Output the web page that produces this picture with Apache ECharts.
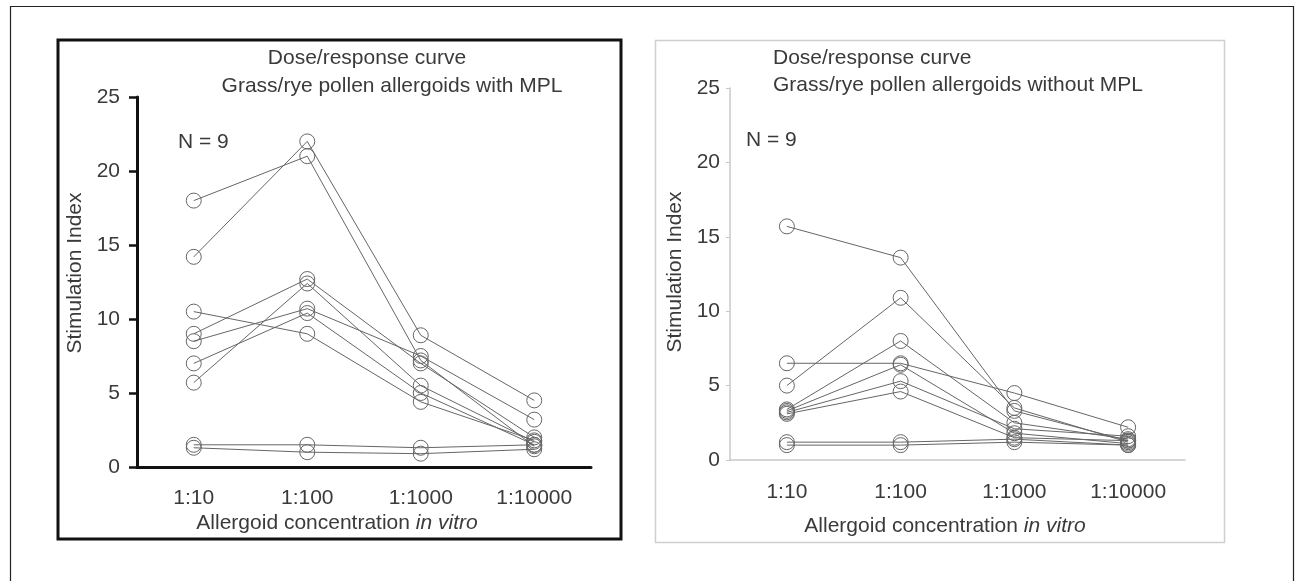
<!DOCTYPE html>
<html>
<head>
<meta charset="utf-8">
<script src="https://cdn.jsdelivr.net/npm/echarts@6/dist/echarts.min.js"></script>
<style>
html, body { margin: 0; padding: 0; background: #fff; }
#chart { width: 1296px; height: 581px; }
</style>
</head>
<body>
<div id="chart"></div>
<script>
// concentrations on the x axis
const categories = ['1:10', '1:100', '1:1000', '1:10000']
const yMin = 0
const yMax = 25
const yStep = 5

// stimulation index per patient, with MPL (left panel)
const withMPL = [
  [18.0, 21.0, 7.2, 1.4],
  [14.2, 22.0, 8.9, 4.5],
  [10.5, 9.0, 4.4, 1.8],
  [9.0, 12.7, 7.0, 2.0],
  [8.5, 10.7, 7.5, 3.2],
  [7.0, 10.4, 5.0, 1.5],
  [5.7, 12.4, 5.5, 1.7],
  [1.5, 1.5, 1.3, 1.5],
  [1.3, 1.0, 0.9, 1.2]
]

// stimulation index per patient, without MPL (right panel)
const withoutMPL = [
  [15.7, 13.6, 3.3, 1.3],
  [5.0, 10.9, 3.5, 1.2],
  [6.5, 6.5, 4.5, 2.2],
  [3.4, 8.0, 2.5, 1.4],
  [3.3, 6.4, 1.8, 1.1],
  [3.2, 5.3, 2.1, 1.6],
  [3.1, 4.6, 1.5, 1.3],
  [1.2, 1.2, 1.4, 1.0],
  [1.0, 1.0, 1.2, 1.0]
]

const font = "'Liberation Sans', Arial, sans-serif"
const textColor = '#3a3a3a'

function makeSeries(rows, idx) {
  return rows.map(r => ({
    type: 'line',
    xAxisIndex: idx,
    yAxisIndex: idx,
    data: r,
    symbol: 'circle',
    symbolSize: 15,
    itemStyle: { color: 'rgba(0,0,0,0)', borderColor: '#666', borderWidth: 1 },
    lineStyle: { color: '#666', width: 1 },
    emphasis: { disabled: true },
    animation: false,
    z: 3
  }))
}

function txt(x, y, text, opts) {
  return Object.assign({
    type: 'text', x: x, y: y, silent: true,
    style: Object.assign({
      text: text, fontSize: 21, fontFamily: font, fill: textColor,
      textAlign: 'center', textVerticalAlign: 'middle',
      rich: { i: { fontStyle: 'italic', fontSize: 21, fontFamily: font, fill: textColor } }
    }, opts || {})
  })
}

const option = {
  backgroundColor: '#fff',
  animation: false,
  grid: [
    { left: 137, top: 97, width: 454, height: 370 },
    { left: 730, top: 88, width: 455, height: 372 }
  ],
  xAxis: [
    {
      gridIndex: 0, type: 'category', data: categories, boundaryGap: true,
      axisLine: { lineStyle: { color: '#111', width: 3 } },
      axisTick: { show: false },
      axisLabel: { margin: 21, fontSize: 21, fontFamily: font, color: textColor },
      splitLine: { show: false }
    },
    {
      gridIndex: 1, type: 'category', data: categories, boundaryGap: true,
      axisLine: { lineStyle: { color: '#c8c8c8', width: 1.5 } },
      axisTick: { show: false },
      axisLabel: { margin: 22, fontSize: 21, fontFamily: font, color: textColor },
      splitLine: { show: false }
    }
  ],
  yAxis: [
    {
      gridIndex: 0, type: 'value', min: yMin, max: yMax, interval: yStep,
      axisLine: { show: true, lineStyle: { color: '#111', width: 3 } },
      axisTick: { show: true, length: 8, lineStyle: { color: '#111', width: 2.5 } },
      axisLabel: { margin: 17, fontSize: 21, fontFamily: font, color: textColor },
      splitLine: { show: false }
    },
    {
      gridIndex: 1, type: 'value', min: yMin, max: yMax, interval: yStep,
      axisLine: { show: true, lineStyle: { color: '#c8c8c8', width: 1.5 } },
      axisTick: { show: true, length: 4, lineStyle: { color: '#c8c8c8', width: 1 } },
      axisLabel: { margin: 10, fontSize: 21, fontFamily: font, color: textColor },
      splitLine: { show: false }
    }
  ],
  graphic: [
    // outer frame
    { type: 'rect', shape: { x: 10.5, y: 6.5, width: 1283, height: 600 },
      style: { fill: 'none', stroke: '#222', lineWidth: 1.2 }, silent: true },
    // left panel box
    { type: 'rect', shape: { x: 58, y: 40, width: 563, height: 499 },
      style: { fill: 'none', stroke: '#111', lineWidth: 3 }, silent: true },
    // right panel box
    { type: 'rect', shape: { x: 655.5, y: 40.5, width: 569, height: 502 },
      style: { fill: 'none', stroke: '#cfcfcf', lineWidth: 1.5 }, silent: true },

    txt(367, 58, 'Dose/response curve'),
    txt(392, 86, 'Grass/rye pollen allergoids with MPL'),
    txt(178, 142, 'N = 9', { textAlign: 'left' }),
    Object.assign(txt(75, 273, 'Stimulation Index'), { rotation: Math.PI / 2 }),
    txt(337, 523, '{n|Allergoid concentration }{i|in vitro}',
      { rich: { n: { fontSize: 21, fontFamily: font, fill: textColor },
                i: { fontStyle: 'italic', fontSize: 21, fontFamily: font, fill: textColor } } }),

    txt(773, 58, 'Dose/response curve', { textAlign: 'left' }),
    txt(773, 85, 'Grass/rye pollen allergoids without MPL', { textAlign: 'left' }),
    txt(746, 140, 'N = 9', { textAlign: 'left' }),
    Object.assign(txt(675, 272, 'Stimulation Index'), { rotation: Math.PI / 2 }),
    txt(945, 526, '{n|Allergoid concentration }{i|in vitro}',
      { rich: { n: { fontSize: 21, fontFamily: font, fill: textColor },
                i: { fontStyle: 'italic', fontSize: 21, fontFamily: font, fill: textColor } } })
  ],
  series: makeSeries(withMPL, 0).concat(makeSeries(withoutMPL, 1))
}

const myChart = echarts.init(document.getElementById('chart'), null, { renderer: 'canvas' })
myChart.setOption(option)
</script>
</body>
</html>
